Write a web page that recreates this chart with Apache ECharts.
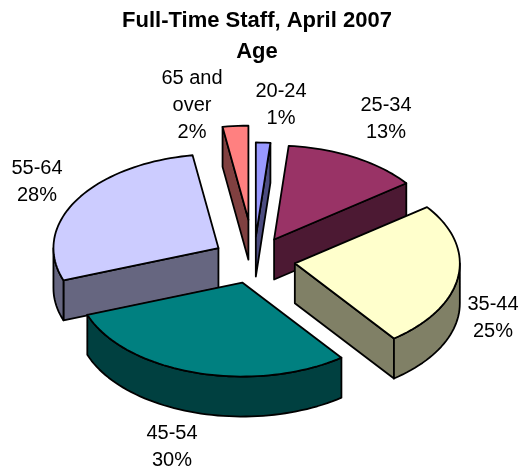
<!DOCTYPE html>
<html><head><meta charset="utf-8">
<style>html,body{margin:0;padding:0;background:#fff}#c{width:521px;height:467px}</style>
<script src="https://cdn.jsdelivr.net/npm/echarts@6/dist/echarts.min.js"></script>
</head><body><div id="c"></div>
<script>
// Data
const categories = ['20-24','25-34','35-44','45-54','55-64','65 and\nover'];
const values = [1.4,13.3,24.8,29.5,27.9,2.49];
// Styles
const topColors = ['#9999FF','#993366','#FFFFCC','#008080','#CCCCFF','#FF8080'];
const sideColors = ['#4C4C80','#4C1933','#808066','#004040','#666680','#804040'];
const explode = [0.25,0.25,0.25,0.25,0.25,0.43];
// Layout
const CX=254, CY=260, RX=165, RY=94, DEPTH=40, START=0;
const labelPos = [[281,105],[386,119],[493,318],[172,447],[37,182],[192,105.5]];

const total = values.reduce((a,b)=>a+b,0);
let acc = START;
const slices = values.map((v,i)=>{
  const s=acc, e=acc+v/total*360; acc=e;
  const mid=(s+e)/2*Math.PI/180;
  return {i,s,e,mid,
    cx:CX+explode[i]*RX*Math.sin(mid),
    cy:CY-explode[i]*RY*Math.cos(mid)};
});
const order = slices.slice().sort((a,b)=>Math.cos(b.mid)-Math.cos(a.mid));
function pt(sl,deg,dy){
  const r=deg*Math.PI/180;
  return [sl.cx+RX*Math.sin(r), sl.cy-RY*Math.cos(r)+(dy||0)];
}
function arc(sl,a,b,dy){
  const n=Math.max(2,Math.ceil(Math.abs(b-a)/2)),out=[];
  for(let k=0;k<=n;k++) out.push(pt(sl,a+(b-a)*k/n,dy));
  return out;
}
const stroke={stroke:'#000',lineWidth:1.8,lineJoin:'round'};
function poly(points,fill){
  return {type:'polygon',shape:{points},style:Object.assign({fill},stroke)};
}
function renderItem(params){
  const sl=slices[order[params.dataIndex].i];
  const top=topColors[sl.i], side=sideColors[sl.i];
  const apex=[sl.cx,sl.cy];
  const kids=[];
  const wall=(deg)=>{
    const p=pt(sl,deg,0);
    kids.push(poly([apex,p,[p[0],p[1]+DEPTH],[apex[0],apex[1]+DEPTH]],side));
  };
  if(sl.s>180) wall(sl.s);
  if(sl.e<180) wall(sl.e);
  const a=Math.max(sl.s,90), b=Math.min(sl.e,270);
  if(b>a){
    kids.push(poly(arc(sl,a,b,0).concat(arc(sl,b,a,DEPTH)),side));
  }
  kids.push(poly([apex].concat(arc(sl,sl.s,sl.e,0)),top));
  const pct=Math.round(values[sl.i])+'%';
  kids.push({type:'text',x:labelPos[sl.i][0],y:labelPos[sl.i][1],
    style:{text:categories[sl.i]+'\n'+pct,fill:'#000',
      font:'20px "Liberation Sans", Arial, sans-serif',
      align:'center',verticalAlign:'middle',lineHeight:27}});
  return {type:'group',children:kids};
}
const chart=echarts.init(document.getElementById('c'),null,{renderer:'canvas'});
chart.setOption({
  animation:false,
  backgroundColor:'#fff',
  title:{text:'Full-Time Staff, April 2007\nAge',left:252,top:0,textAlign:'center',
    textStyle:{fontFamily:'"Liberation Sans", Arial, sans-serif',fontWeight:'bold',fontSize:22,lineHeight:31,color:'#000'}},
  series:[{type:'custom',coordinateSystem:'none',silent:true,renderItem,
    data:order.map(sl=>({name:categories[sl.i],value:values[sl.i]}))}]
});
</script></body></html>
